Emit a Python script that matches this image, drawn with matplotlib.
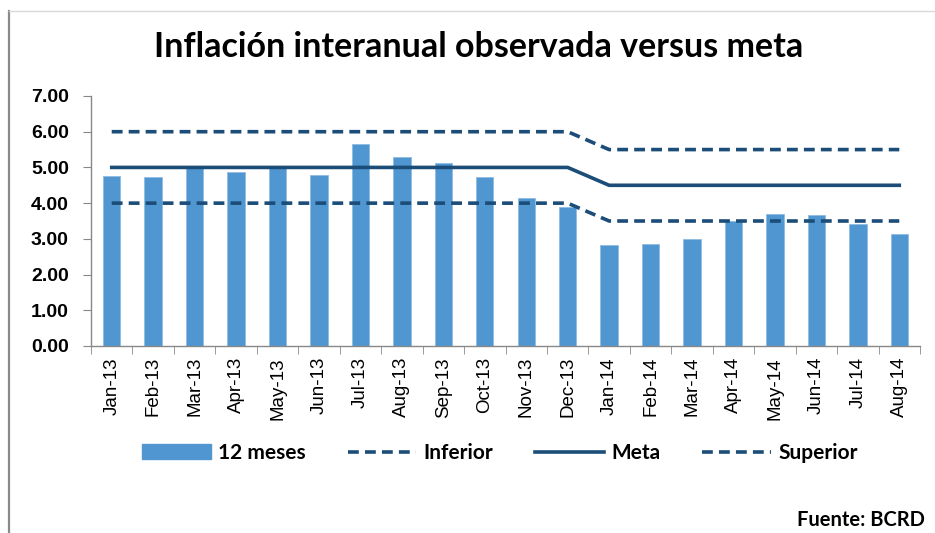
import matplotlib
matplotlib.use("Agg")
import matplotlib.pyplot as plt
from matplotlib.lines import Line2D
from matplotlib.patches import Patch
import numpy as np

categories = ["Jan-13", "Feb-13", "Mar-13", "Apr-13", "May-13", "Jun-13", "Jul-13",
              "Aug-13", "Sep-13", "Oct-13", "Nov-13", "Dec-13", "Jan-14", "Feb-14",
              "Mar-14", "Apr-14", "May-14", "Jun-14", "Jul-14", "Aug-14"]
doce_meses = [4.76, 4.73, 5.00, 4.88, 5.00, 4.79, 5.65, 5.28, 5.12, 4.73, 4.14, 3.89,
              2.83, 2.86, 2.99, 3.51, 3.70, 3.67, 3.41, 3.14]
inferior = [4.0] * 12 + [3.5] * 8
meta = [5.0] * 12 + [4.5] * 8
superior = [6.0] * 12 + [5.5] * 8
yticks = [0, 1, 2, 3, 4, 5, 6, 7]

bar_color = "#5097D1"
line_color = "#1B4D78"
dash = (3.0, 1.7)

fig = plt.figure(figsize=(9.35, 5.33), dpi=100)
ax = fig.add_axes([91/935, 1 - 346/533, (920 - 91)/935, (346 - 96)/533])

x = np.arange(len(categories))
ax.bar(x, doce_meses, width=0.42, color=bar_color, edgecolor="#8EBCE3", linewidth=0.6, zorder=2)
ax.plot(x, inferior, color=line_color, lw=2.6, dashes=dash, zorder=3)
ax.plot(x, meta, color=line_color, lw=2.6, zorder=3)
ax.plot(x, superior, color=line_color, lw=2.6, dashes=dash, zorder=3)

ax.set_xlim(-0.5, len(categories) - 0.5)
ax.set_ylim(0, 7)
ax.set_yticks(yticks)
ax.set_yticklabels([f"{v:.2f}" for v in yticks], fontfamily="Liberation Sans",
                   fontweight="bold", fontsize=14)
ax.set_xticks(x)
ax.set_xticklabels(categories, rotation=90, fontfamily="Liberation Sans", fontsize=13.5)
ax.set_xticks(np.arange(-0.5, len(categories)), minor=True)
ax.tick_params(axis="x", which="major", length=0, pad=8)
ax.tick_params(axis="x", which="minor", length=6, color="#888888", direction="out")
ax.tick_params(axis="y", length=6, color="#888888", direction="out", pad=10)

for s in ["top", "right"]:
    ax.spines[s].set_visible(False)
for s in ["left", "bottom"]:
    ax.spines[s].set_color("#888888")
    ax.spines[s].set_linewidth(1.0)

fig.text(479/935, 1 - 47/533, "Inflación interanual observada versus meta",
         ha="center", va="center", fontfamily="Lato", fontweight="bold", fontsize=24.5)

handles = [Patch(facecolor=bar_color, edgecolor=bar_color),
           Line2D([], [], color=line_color, lw=2.6, dashes=dash),
           Line2D([], [], color=line_color, lw=2.6),
           Line2D([], [], color=line_color, lw=2.6, dashes=dash)]
labels = ["12 meses", "Inferior", "Meta", "Superior"]
fig.legend(handles, labels, loc="center", bbox_to_anchor=(500/935, 1 - 453/533), ncol=4,
           frameon=False, prop={"family": "Lato", "weight": "bold", "size": 15},
           handlelength=3.3, handleheight=0.75, columnspacing=2.0, handletextpad=0.35)

fig.text(925/935, 1 - 520/533, "Fuente: BCRD", ha="right", va="center",
         fontfamily="Lato", fontweight="bold", fontsize=14.5)

# screenshot frame
fig.add_artist(Line2D([8.5/935, 8.5/935], [0, 1 - 11/533], color="#8A8A8A", lw=1.6,
                      transform=fig.transFigure))
fig.add_artist(Line2D([8.5/935, 1], [1 - 11/533, 1 - 11/533], color="#D9D9D9", lw=1.0,
                      transform=fig.transFigure))

fig.savefig("out.png", dpi=100)
